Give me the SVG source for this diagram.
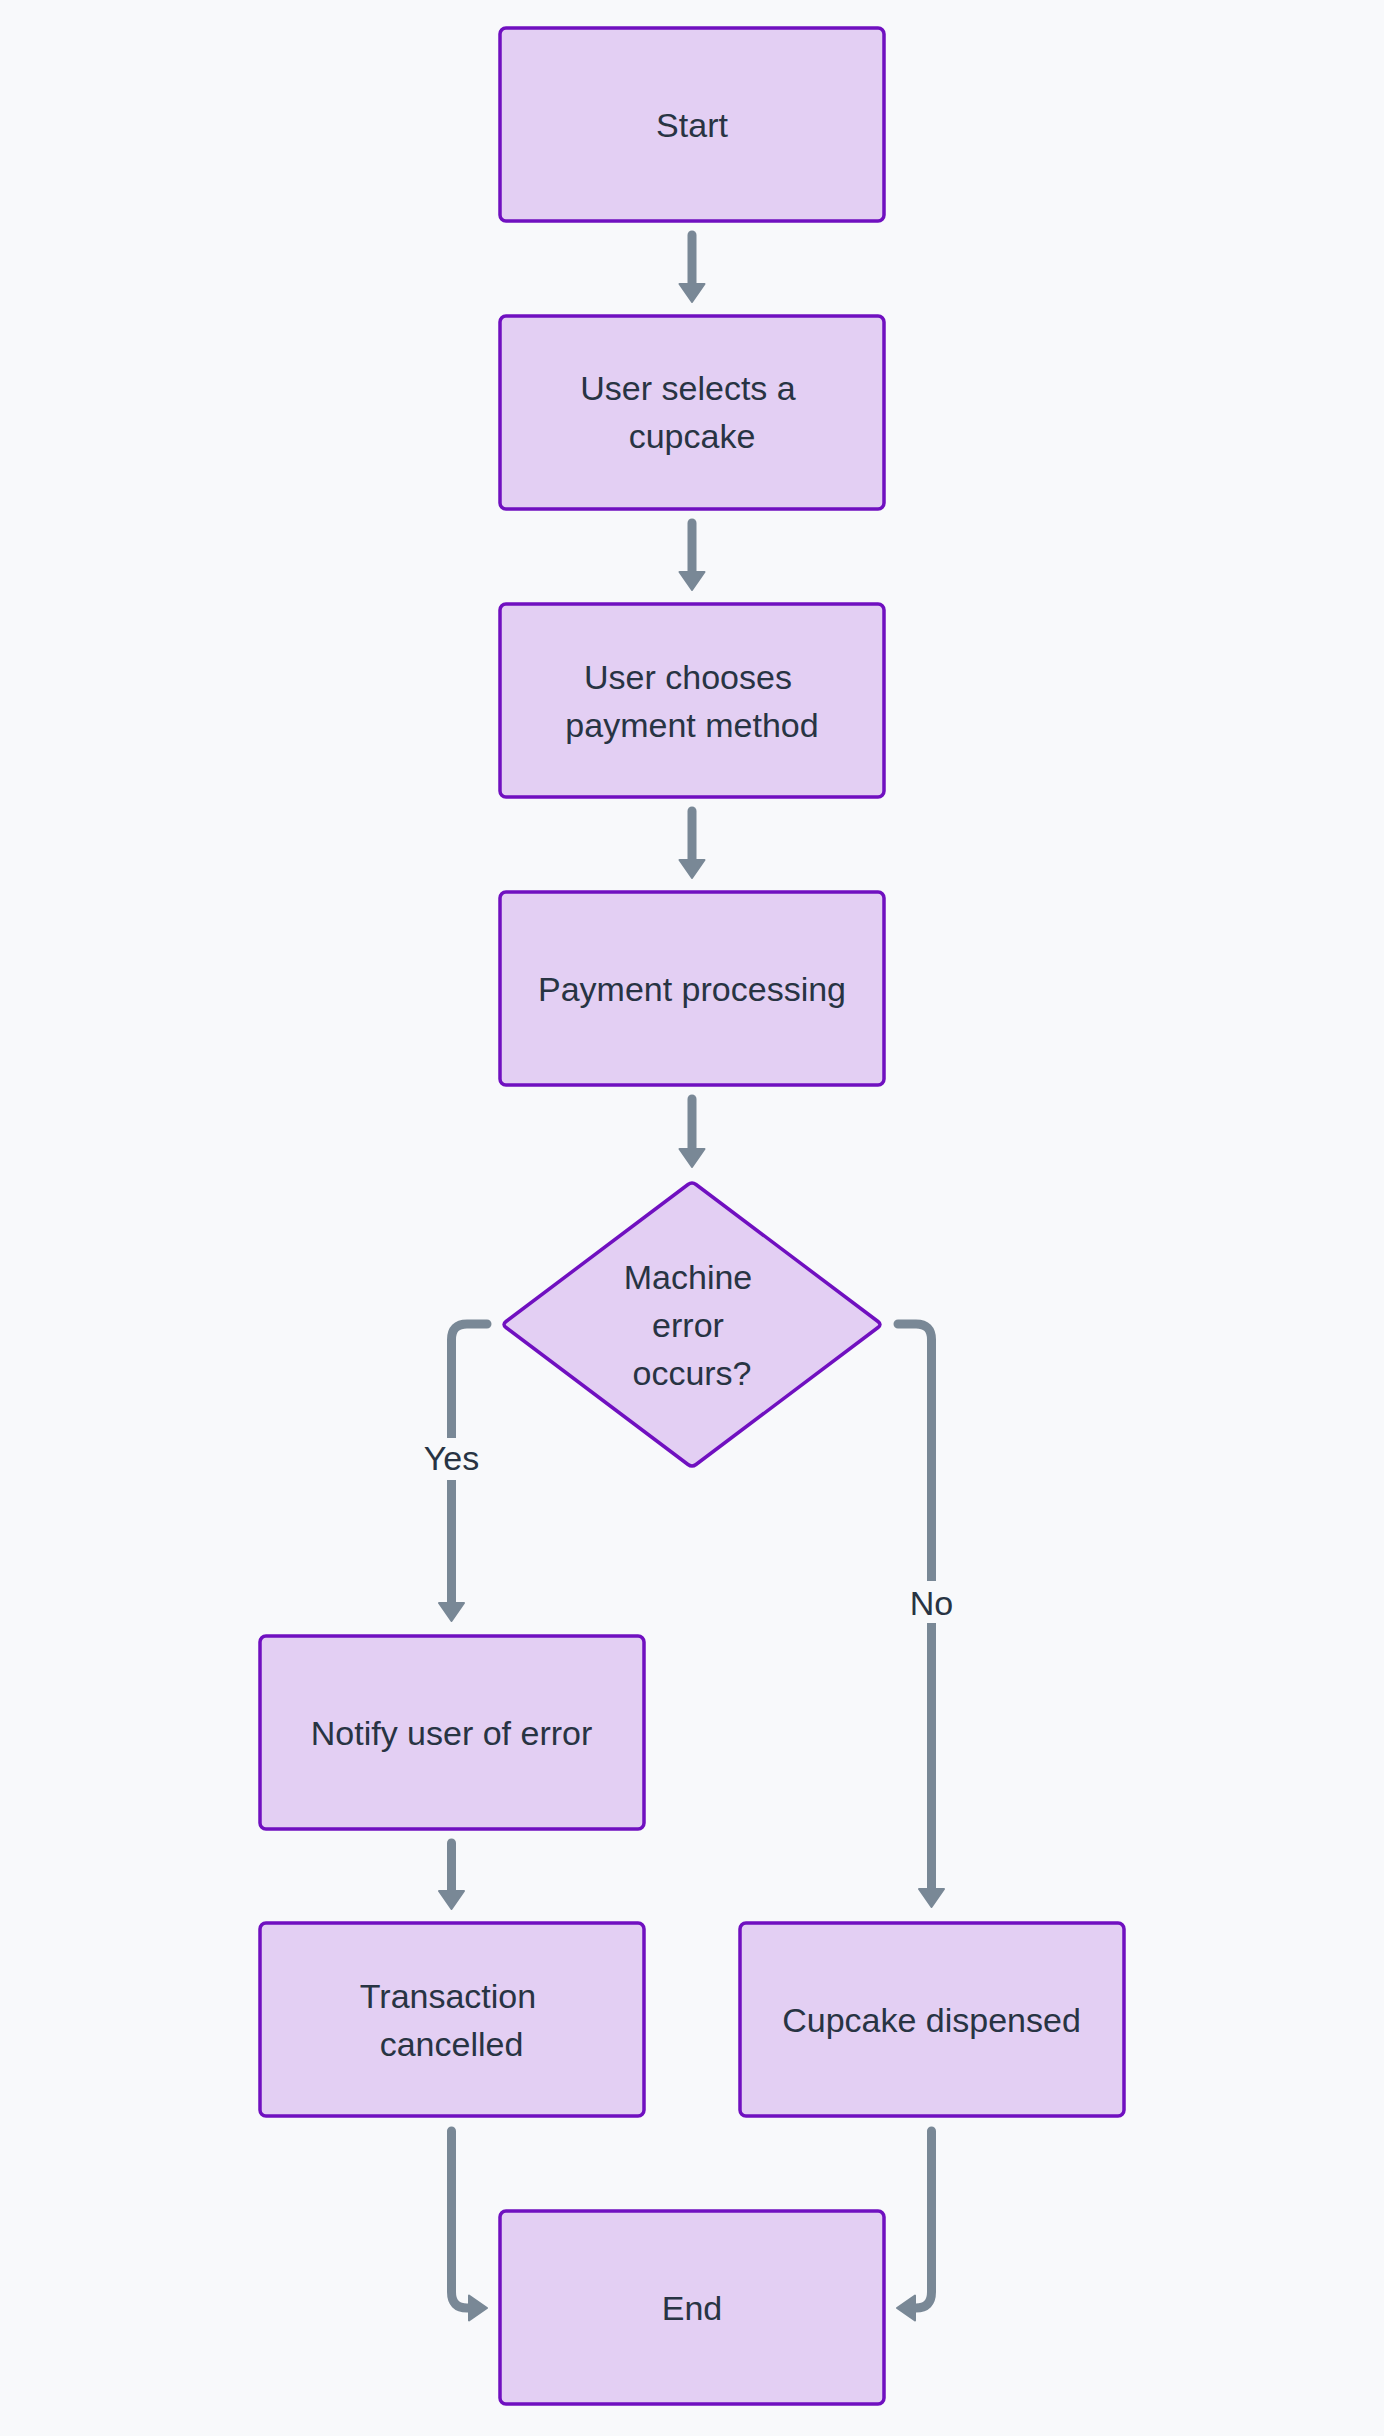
<svg xmlns="http://www.w3.org/2000/svg" width="1384" height="2436" viewBox="0 0 1384 2436">
<style>
.bg{fill:#f8f9fb}
.box{fill:#e3cff3;stroke:#7010c0;stroke-width:3.5}
.t{font-family:"Liberation Sans",Arial,sans-serif;font-size:34px;fill:#283443;text-anchor:middle}
.edge{fill:none;stroke:#798896;stroke-width:9;stroke-linecap:round;stroke-linejoin:round}
.lbl{fill:#f8f9fb}
</style>
<defs>
<marker id="ah" markerUnits="userSpaceOnUse" viewBox="0 0 20 28" markerWidth="20" markerHeight="28" refX="1" refY="14" orient="auto">
<path d="M1,1.5 L19,14 L1,26.5 Z" fill="#798896" stroke="#798896" stroke-width="2" stroke-linejoin="round"/>
</marker>
</defs>
<rect class="bg" x="0" y="0" width="1384" height="2436"/>
<g id="connectors">
<path class="edge" d="M692,235 L692,284" marker-end="url(#ah)"/>
<path class="edge" d="M692,523 L692,572" marker-end="url(#ah)"/>
<path class="edge" d="M692,811 L692,860" marker-end="url(#ah)"/>
<path class="edge" d="M692,1099 L692,1149" marker-end="url(#ah)"/>
<path class="edge" d="M487,1324 L467,1324 Q451.5,1324 451.5,1339.5 L451.5,1603" marker-end="url(#ah)"/>
<path class="edge" d="M898,1324 L916,1324 Q931.5,1324 931.5,1339.5 L931.5,1889" marker-end="url(#ah)"/>
<path class="edge" d="M451.5,1843 L451.5,1891" marker-end="url(#ah)"/>
<path class="edge" d="M451.5,2131 L451.5,2292 Q451.5,2308 467,2308 L469,2308" marker-end="url(#ah)"/>
<path class="edge" d="M931.5,2131 L931.5,2292 Q931.5,2308 916,2308 L915,2308" marker-end="url(#ah)"/>
<rect class="lbl" x="420" y="1438" width="64" height="42"/>
<text class="t" x="451.5" y="1470">Yes</text>
<rect class="lbl" x="905" y="1581" width="54" height="42"/>
<text class="t" x="931.5" y="1615">No</text>
</g>
<g id="start">
<rect class="box" x="500" y="28" width="384" height="193" rx="6"/>
<text class="t" x="692" y="137">Start</text>
</g>
<g id="select">
<rect class="box" x="500" y="316" width="384" height="193" rx="6"/>
<text class="t" x="688" y="400">User selects a</text>
<text class="t" x="692" y="448">cupcake</text>
</g>
<g id="payment">
<rect class="box" x="500" y="604" width="384" height="193" rx="6"/>
<text class="t" x="688" y="688.5">User chooses</text>
<text class="t" x="692" y="736.5">payment method</text>
</g>
<g id="processing">
<rect class="box" x="500" y="892" width="384" height="193" rx="6"/>
<text class="t" x="692" y="1001">Payment processing</text>
</g>
<g id="decision">
<path class="box" d="M688,1184.5 Q692,1181.5 696,1184.5 L878,1321.5 Q882,1324.5 878,1327.5 L696,1464.5 Q692,1467.5 688,1464.5 L506,1327.5 Q502,1324.5 506,1321.5 Z"/>
<text class="t" x="688" y="1289">Machine</text>
<text class="t" x="688" y="1337">error</text>
<text class="t" x="692" y="1385">occurs?</text>
</g>
<g id="notify">
<rect class="box" x="260" y="1636" width="384" height="193" rx="6"/>
<text class="t" x="451.5" y="1745">Notify user of error</text>
</g>
<g id="cancelled">
<rect class="box" x="260" y="1923" width="384" height="193" rx="6"/>
<text class="t" x="448" y="2007.5">Transaction</text>
<text class="t" x="451.5" y="2055.5">cancelled</text>
</g>
<g id="dispensed">
<rect class="box" x="740" y="1923" width="384" height="193" rx="6"/>
<text class="t" x="931.5" y="2032">Cupcake dispensed</text>
</g>
<g id="end">
<rect class="box" x="500" y="2211" width="384" height="193" rx="6"/>
<text class="t" x="692" y="2320">End</text>
</g>
</svg>
